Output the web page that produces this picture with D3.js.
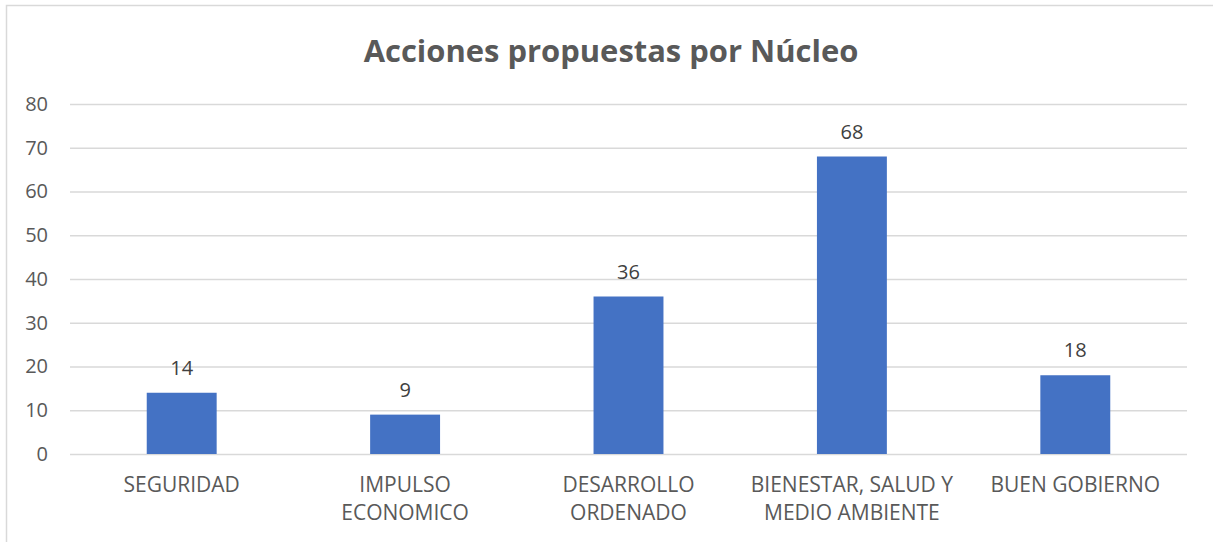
<!DOCTYPE html>
<html>
<head>
<meta charset="utf-8">
<script src="https://cdn.jsdelivr.net/npm/d3@7"></script>
<style>
  body { margin: 0; background: #fff; }
  svg { display: block; font-family: "Open Sans", "Noto Sans", sans-serif; }
</style>
</head>
<body>
<svg id="chart" width="1213" height="542"></svg>
<script>
// datos del gráfico
const categories = ["SEGURIDAD", "IMPULSO ECONOMICO", "DESARROLLO ORDENADO", "BIENESTAR, SALUD Y MEDIO AMBIENTE", "BUEN GOBIERNO"];
const categoryLines = [["SEGURIDAD"], ["IMPULSO", "ECONOMICO"], ["DESARROLLO", "ORDENADO"], ["BIENESTAR, SALUD Y", "MEDIO AMBIENTE"], ["BUEN GOBIERNO"]];
const values = [14, 9, 36, 68, 18];
const yTicks = [0, 10, 20, 30, 40, 50, 60, 70, 80];
const title = "Acciones propuestas por Núcleo";

const svg = d3.select("#chart");
const attr_area = {
    width: parseFloat(svg.attr("width")),
    height: parseFloat(svg.attr("height")),
    left: 70,
    right: 1187,
    top: 104,
    bottom: 454
};

// marco exterior
svg.append("path")
    .attr("d", `M6.5,${attr_area.height} V5.5 H${attr_area.width}`)
    .attr("fill", "none")
    .attr("stroke", "#d9d9d9")
    .attr("stroke-width", 1.5);

// título
const titleText = svg.append("text")
    .attr("x", 611)
    .attr("y", 62)
    .attr("text-anchor", "middle")
    .style("font-size", "30px")
    .style("font-weight", "bold")
    .style("fill", "#595959")
    .text(title);
const tw = titleText.node().getComputedTextLength();
titleText.style("font-size", (30 * 495 / tw) + "px");

const scaleX = d3.scaleBand()
    .domain(categories)
    .range([attr_area.left, attr_area.right])
    .paddingInner(0.687)
    .paddingOuter(0.3435);

const scaleY = d3.scaleLinear()
    .domain([0, 80])
    .range([attr_area.bottom, attr_area.top]);

// líneas de cuadrícula y etiquetas del eje Y
const axisY = d3.axisLeft(scaleY)
    .tickValues(yTicks)
    .tickSize(-(attr_area.right - attr_area.left))
    .tickPadding(22);

const gY = svg.append("g")
    .attr("transform", `translate(${attr_area.left}, 0)`)
    .call(axisY);
gY.select(".domain").remove();
gY.selectAll(".tick line")
    .attr("stroke", "#d9d9d9")
    .attr("stroke-width", 1.5);
gY.selectAll(".tick text")
    .style("font-size", "20px")
    .style("font-family", "'Open Sans', sans-serif")
    .style("fill", "#595959");

// barras
svg.selectAll(".bar")
    .data(values)
    .join("rect")
    .attr("class", "bar")
    .attr("x", (d, i) => scaleX(categories[i]))
    .attr("y", d => scaleY(d))
    .attr("width", scaleX.bandwidth())
    .attr("height", d => scaleY(0) - scaleY(d))
    .style("fill", "#4472c4");

// etiquetas de datos
svg.selectAll(".label")
    .data(values)
    .join("text")
    .attr("class", "label")
    .attr("x", (d, i) => scaleX(categories[i]) + scaleX.bandwidth() / 2)
    .attr("y", d => scaleY(d) - 18)
    .attr("text-anchor", "middle")
    .style("font-size", "20px")
    .style("fill", "#404040")
    .text(d => d);

// etiquetas del eje X
categories.forEach((c, i) => {
    const t = svg.append("text")
        .attr("x", scaleX(c) + scaleX.bandwidth() / 2)
        .attr("y", 492)
        .attr("text-anchor", "middle")
        .style("font-size", "21px")
        .style("fill", "#595959");
    categoryLines[i].forEach((line, j) => {
        t.append("tspan")
            .attr("x", scaleX(c) + scaleX.bandwidth() / 2)
            .attr("dy", j === 0 ? 0 : 28)
            .text(line);
    });
});
</script>
</body>
</html>
